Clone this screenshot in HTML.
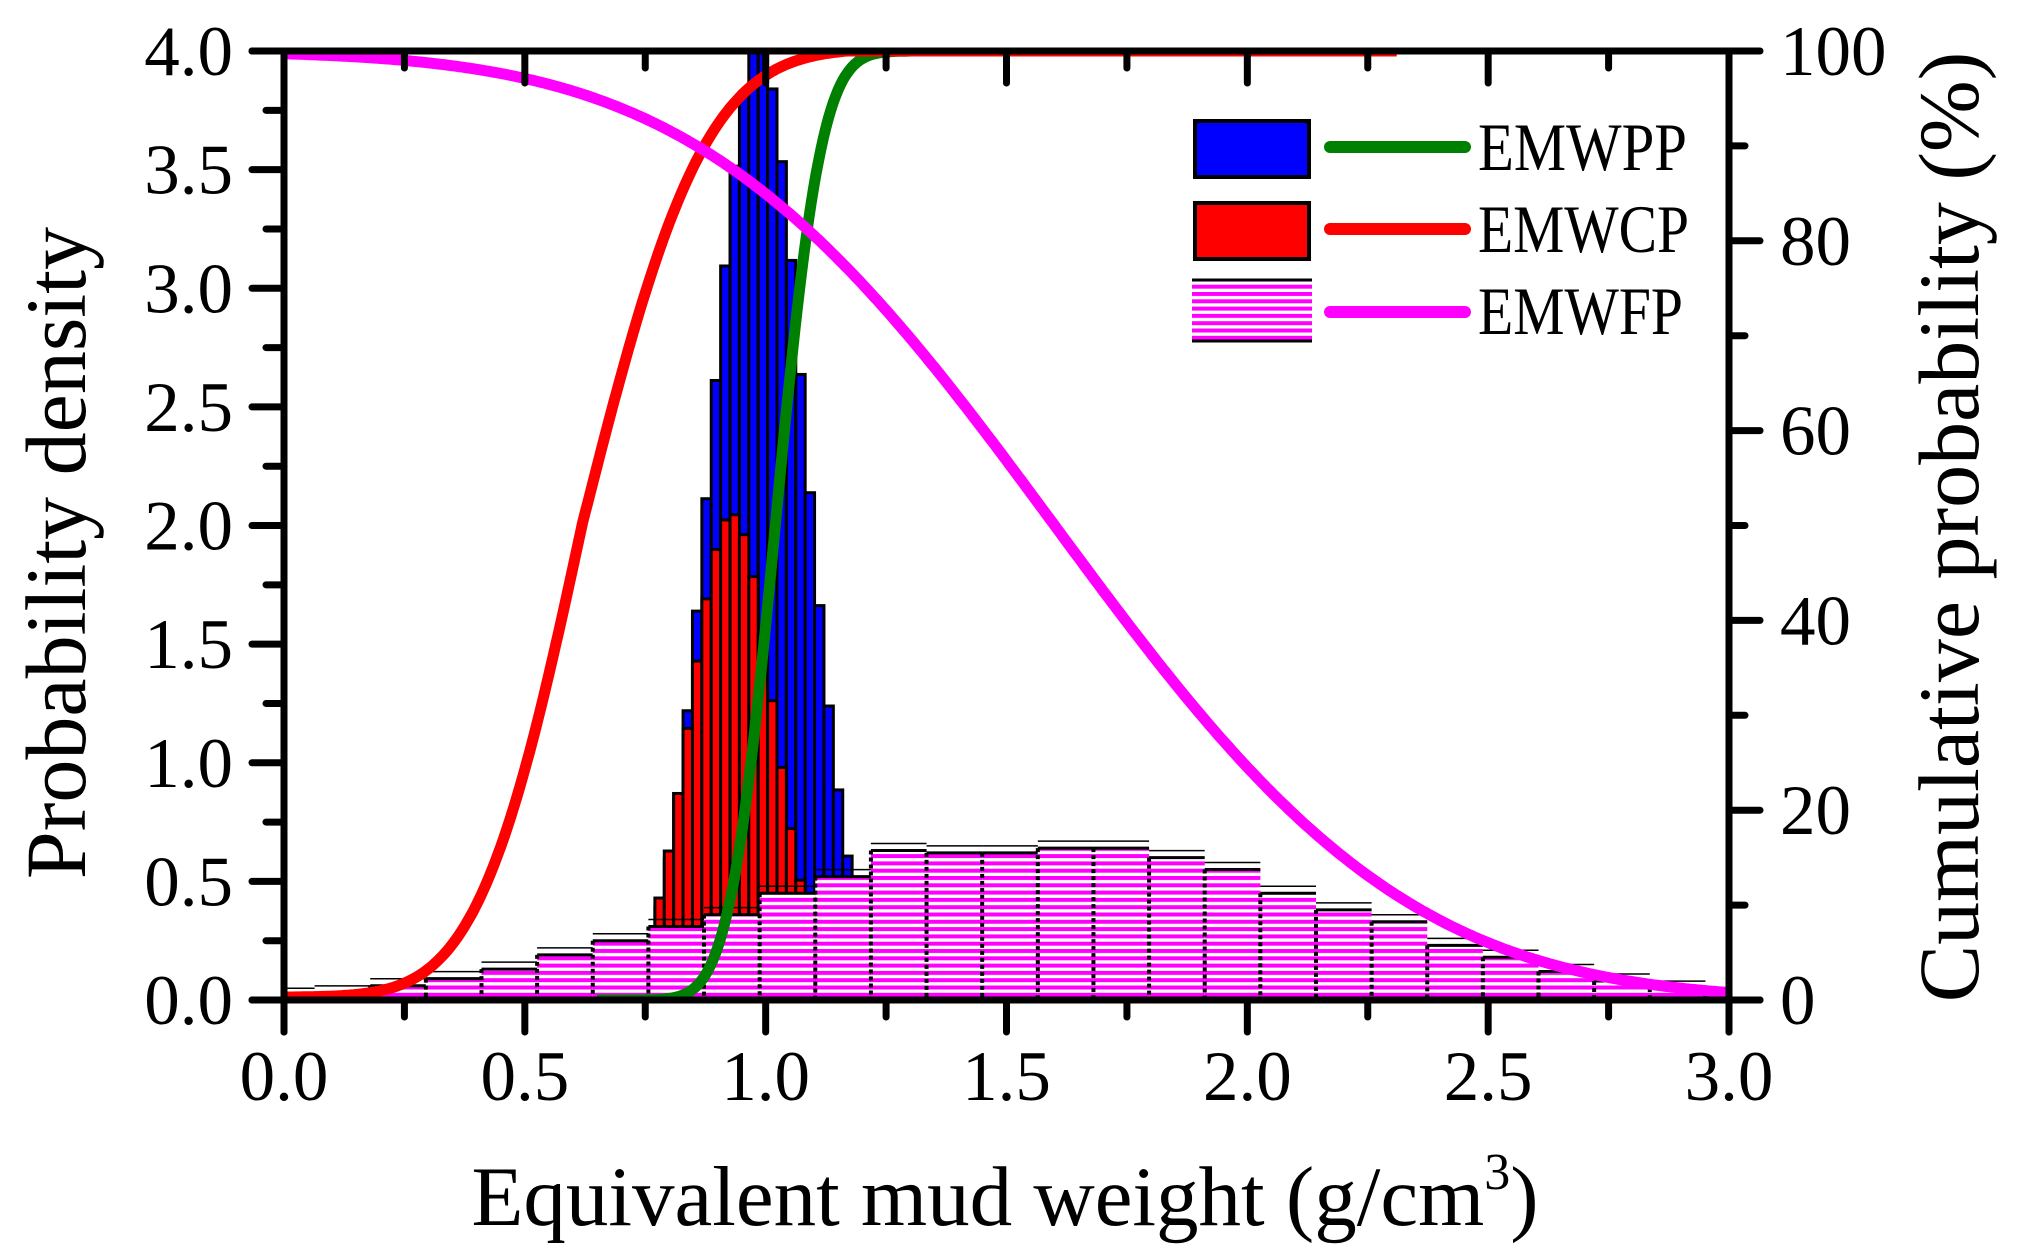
<!DOCTYPE html>
<html><head><meta charset="utf-8"><style>
html,body{margin:0;padding:0;background:#fff;}
svg{display:block;}
text{font-family:"Liberation Serif",serif;fill:#000;}
</style></head><body>
<svg id="s" width="2017" height="1258" viewBox="0 0 2017 1258" xmlns="http://www.w3.org/2000/svg">
<defs>
<pattern id="pk" patternUnits="userSpaceOnUse" width="20" height="7.3">
<rect x="0" y="0" width="20" height="7.3" fill="#fff"/>
<rect x="0" y="0" width="20" height="4" fill="#ff00ff"/>
</pattern>
<clipPath id="cp"><rect x="284" y="51" width="1445" height="949"/></clipPath>
</defs>
<g id="bars" clip-path="url(#cp)"></g>
<g id="lines" clip-path="url(#cp)" fill="none" stroke-width="11" stroke-linejoin="round"></g>
<g id="axes" stroke="#000" stroke-width="7" stroke-linecap="round"></g>
<g id="lab" font-size="71"></g>
<text x="1005" y="1225" font-size="85" text-anchor="middle">Equivalent mud weight (g/cm<tspan font-size="52" dy="-36">3</tspan><tspan dy="36">)</tspan></text>
<text transform="translate(85,553) rotate(-90)" font-size="86" text-anchor="middle">Probability density</text>
<text transform="translate(1978,527) rotate(-90)" font-size="86" text-anchor="middle">Cumulative probability (%)</text>
<g id="leg">
<rect x="1195" y="121" width="114" height="56" fill="#0000ff" stroke="#000" stroke-width="4"/>
<rect x="1195" y="203" width="114" height="56" fill="#ff0000" stroke="#000" stroke-width="4"/>
<rect x="1192" y="280" width="120" height="60" fill="url(#pk)"/>
<line x1="1192" y1="280" x2="1312" y2="280" stroke="#000" stroke-width="3"/>
<line x1="1192" y1="341" x2="1312" y2="341" stroke="#000" stroke-width="3"/>
<line x1="1330" y1="147" x2="1465" y2="147" stroke="#008000" stroke-width="12" stroke-linecap="round"/>
<line x1="1330" y1="229" x2="1465" y2="229" stroke="#ff0000" stroke-width="12" stroke-linecap="round"/>
<line x1="1330" y1="312" x2="1465" y2="312" stroke="#ff00ff" stroke-width="12" stroke-linecap="round"/>
<text x="1478" y="170" font-size="68" textLength="209" lengthAdjust="spacingAndGlyphs">EMWPP</text>
<text x="1478" y="252" font-size="68" textLength="211" lengthAdjust="spacingAndGlyphs">EMWCP</text>
<text x="1478" y="334" font-size="68" textLength="205" lengthAdjust="spacingAndGlyphs">EMWFP</text>
</g>
</svg>
<script>
(function(){
var NS="http://www.w3.org/2000/svg";
var X=function(v){return 284+v*481.67;}, Y=function(d){return 1000-d*237.25;}, YP=function(p){return 1000-p*9.49;};
function el(p,t,a){var e=document.createElementNS(NS,t);for(var k in a)e.setAttribute(k,a[k]);p.appendChild(e);return e;}
var bars=document.getElementById('bars'), lines=document.getElementById('lines'), axes=document.getElementById('axes'), lab=document.getElementById('lab');
var w=0.0195;
for(var x0=0.77;x0<1.24;x0+=w){var c=x0+w/2;var h=4.02*Math.exp(-Math.pow(c-0.985,2)/(2*0.095*0.095));if(h<0.02)continue;
el(bars,'rect',{x:X(x0),y:Y(h),width:w*481.67,height:Y(0)-Y(h),fill:'#0000ff',stroke:'#000','stroke-width':3});}
for(var x0=0.77;x0<1.17;x0+=w){var c=x0+w/2;var h=2.05*Math.exp(-Math.pow(c-0.93,2)/(2*0.085*0.085));
el(bars,'rect',{x:X(x0),y:Y(h),width:w*481.67,height:Y(0)-Y(h),fill:'#ff0000',stroke:'#000','stroke-width':3});}
var ph=[0.02,0.03,0.06,0.09,0.13,0.19,0.25,0.31,0.36,0.45,0.52,0.63,0.62,0.62,0.64,0.64,0.60,0.55,0.45,0.38,0.33,0.23,0.18,0.12,0.08,0.05,0.02];
var pw=0.1155,s0=-0.052;
for(var i=0;i<ph.length;i++){var a=s0+i*pw;var h=ph[i];
el(bars,'rect',{x:X(a),y:Y(h),width:pw*481.67,height:Y(0)-Y(h),fill:'url(#pk)'});
el(bars,'line',{x1:X(a),y1:Y(h),x2:X(a+pw),y2:Y(h),stroke:'#000','stroke-width':3});
el(bars,'line',{x1:X(a),y1:Y(h)-7,x2:X(a+pw),y2:Y(h)-7,stroke:'#000','stroke-width':1.5});
el(bars,'line',{x1:X(a),y1:Y(h),x2:X(a),y2:1000,stroke:'#000','stroke-width':4,'stroke-dasharray':'4 3'});}
function erf(x){var t=1/(1+0.3275911*Math.abs(x));var y=1-(((((1.061405429*t-1.453152027)*t)+1.421413741)*t-0.284496736)*t+0.254829592)*t*Math.exp(-x*x);return x>=0?y:-y;}
function Phi(z){return 0.5*(1+erf(z/Math.SQRT2));}
function path(f,a,b,col){var d='';for(var v=a;v<=b+1e-9;v+=0.005){d+=(d?'L':'M')+X(v).toFixed(1)+','+YP(f(v)).toFixed(1);}el(lines,'path',{d:d,stroke:col});}
path(function(v){return 100*Phi((v-1.02)/0.075);},0.65,1.3,'#008000');
path(function(v){var s=v<0.62?0.17:0.2;return Math.min(100,100*Phi((v-0.62)/s)+0.3);},0,2.31,'#ff0000');
path(function(v){return 100*(1-Phi((v-1.6)/0.58));},0,3,'#ff00ff');
el(axes,'line',{x1:284,y1:51,x2:284,y2:1032});
el(axes,'line',{x1:252,y1:1000,x2:1760,y2:1000});
el(axes,'line',{x1:252,y1:51,x2:1729,y2:51});
el(axes,'line',{x1:1729,y1:51,x2:1729,y2:1032});
for(var i=0;i<=8;i++){var y=Y(i*0.5);el(axes,'line',{x1:252,y1:y,x2:284,y2:y});if(i<8)el(axes,'line',{x1:266,y1:Y(i*0.5+0.25),x2:284,y2:Y(i*0.5+0.25)});
var t=el(lab,'text',{x:233,y:y+24,'text-anchor':'end'});t.textContent=(i*0.5).toFixed(1);}
for(var i=0;i<=6;i++){var x=X(i*0.5);el(axes,'line',{x1:x,y1:1000,x2:x,y2:1032});el(axes,'line',{x1:x,y1:51,x2:x,y2:83});
if(i<6){var xm=X(i*0.5+0.25);el(axes,'line',{x1:xm,y1:1000,x2:xm,y2:1017});el(axes,'line',{x1:xm,y1:51,x2:xm,y2:68});}
var t=el(lab,'text',{x:x,y:1100,'text-anchor':'middle'});t.textContent=(i*0.5).toFixed(1);}
for(var i=0;i<=10;i++){var y=YP(i*10);el(axes,'line',{x1:1729,y1:y,x2:i%2==0?1760:1745,y2:y});
if(i%2==0){var t=el(lab,'text',{x:1780,y:y+24});t.textContent=String(i*10);}}
})();
</script>
</body></html>
